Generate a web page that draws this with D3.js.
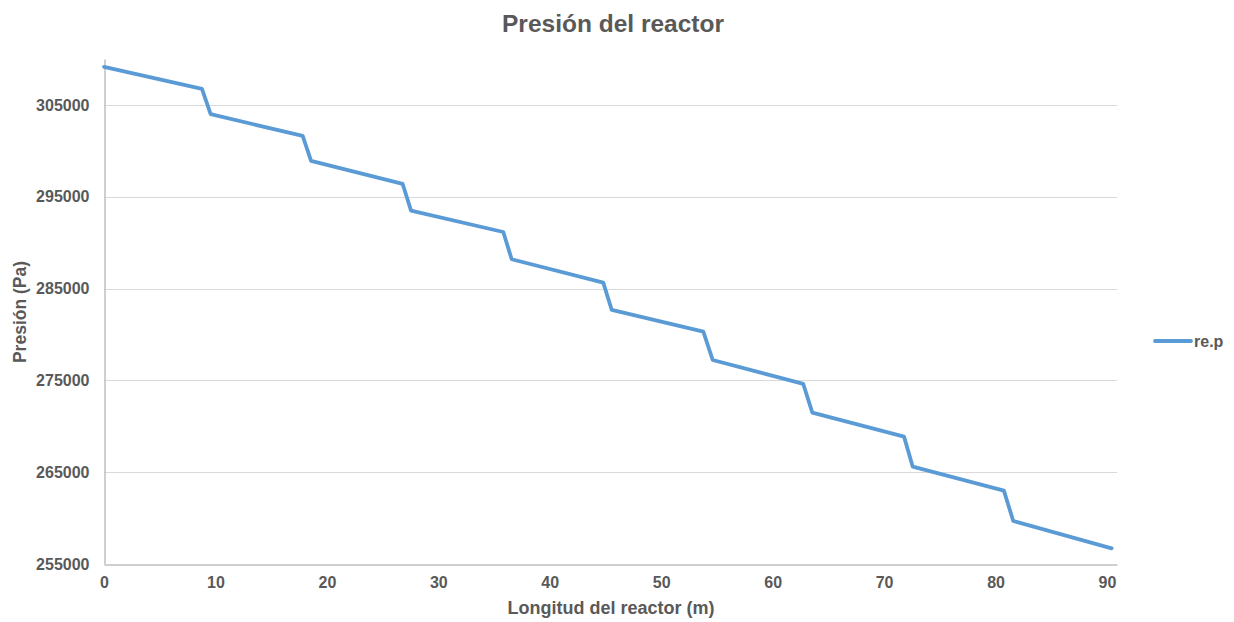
<!DOCTYPE html>
<html>
<head>
<meta charset="utf-8">
<script src="https://cdn.jsdelivr.net/npm/d3@7"></script>
<style>
  html, body { margin: 0; padding: 0; background: #fff; }
  svg { display: block; font-family: "Liberation Sans", Arial, sans-serif; }
</style>
</head>
<body>
<svg id="chart" width="1234" height="622"></svg>
<script>
// Data
const longitud = [0, 8.79, 9.57, 17.83, 18.58, 26.80, 27.55, 35.83, 36.58, 44.80, 45.56, 53.78, 54.62, 62.75, 63.56, 71.79, 72.57, 80.75, 81.59, 90.42];
const presion  = [309140, 306740, 303990, 301620, 298900, 296390, 293490, 291160, 288190, 285640, 282670, 280300, 277220, 274610, 271480, 268870, 265600, 262990, 259680, 256710];
const xTicks = [0, 10, 20, 30, 40, 50, 60, 70, 80, 90];
const yTicks = [255000, 265000, 275000, 285000, 295000, 305000];
const seriesName = "re.p";
const titleText = "Presión del reactor";
const xTitle = "Longitud del reactor (m)";
const yTitle = "Presión (Pa)";

const points = longitud.map((x, i) => ({ x, y: presion[i] }));

const svg = d3.select("#chart");
const margin = { left: 104, right: 1117, top: 59, bottom: 564 };
const textColor = "#595959";
const lineColor = "#5B9BD5";

const x = d3.scaleLinear().domain([0, 90.9]).range([margin.left, margin.right]);
const y = d3.scaleLinear().domain([255000, 310000]).range([margin.bottom, margin.top]);

// Gridlines
svg.append("g")
  .selectAll("line")
  .data(yTicks.filter(d => d !== 255000))
  .join("line")
  .attr("x1", margin.left).attr("x2", margin.right)
  .attr("y1", d => Math.round(y(d)) + 0.5).attr("y2", d => Math.round(y(d)) + 0.5)
  .attr("stroke", "#d9d9d9").attr("stroke-width", 1);

// Y axis
const yAxis = svg.append("g")
  .attr("transform", `translate(${margin.left + 0.5},0)`)
  .call(d3.axisLeft(y).tickValues(yTicks).tickSize(0).tickPadding(15).tickFormat(d3.format("d")));
yAxis.select(".domain").attr("stroke", "#bfbfbf").attr("stroke-width", 1.5);
yAxis.selectAll("text")
  .attr("fill", textColor).attr("font-size", "16px").attr("font-weight", "bold")
  .attr("font-family", "'Liberation Sans', Arial, sans-serif");

// X axis
const xAxis = svg.append("g")
  .attr("transform", `translate(0,${margin.bottom + 0.5})`)
  .call(d3.axisBottom(x).tickValues(xTicks).tickSize(0).tickPadding(12).tickFormat(d3.format("d")));
xAxis.select(".domain").attr("stroke", "#bfbfbf").attr("stroke-width", 1.5);
xAxis.selectAll("text")
  .attr("fill", textColor).attr("font-size", "16px").attr("font-weight", "bold")
  .attr("font-family", "'Liberation Sans', Arial, sans-serif");

// Line
const line = d3.line().x(d => x(d.x)).y(d => y(d.y));
svg.append("path")
  .datum(points)
  .attr("fill", "none")
  .attr("stroke", lineColor)
  .attr("stroke-width", 3.8)
  .attr("stroke-linejoin", "round")
  .attr("stroke-linecap", "round")
  .attr("d", line);

// Title
svg.append("text")
  .attr("x", 613).attr("y", 32)
  .attr("text-anchor", "middle")
  .attr("fill", textColor).attr("font-size", "24.5px").attr("font-weight", "bold")
  .text(titleText);

// Axis titles
svg.append("text")
  .attr("x", 611).attr("y", 614)
  .attr("text-anchor", "middle")
  .attr("fill", textColor).attr("font-size", "18px").attr("font-weight", "bold")
  .text(xTitle);

svg.append("text")
  .attr("transform", `translate(26,312) rotate(-90)`)
  .attr("text-anchor", "middle")
  .attr("fill", textColor).attr("font-size", "17.5px").attr("font-weight", "bold")
  .text(yTitle);

// Legend
const legend = svg.append("g").attr("transform", "translate(1155,341)");
legend.append("line")
  .attr("x1", 0).attr("x2", 36).attr("y1", 0).attr("y2", 0)
  .attr("stroke", lineColor).attr("stroke-width", 3.8).attr("stroke-linecap", "round");
legend.append("text")
  .attr("x", 39).attr("y", 6)
  .attr("fill", textColor).attr("font-size", "16px").attr("font-weight", "bold")
  .text(seriesName);
</script>
</body>
</html>
